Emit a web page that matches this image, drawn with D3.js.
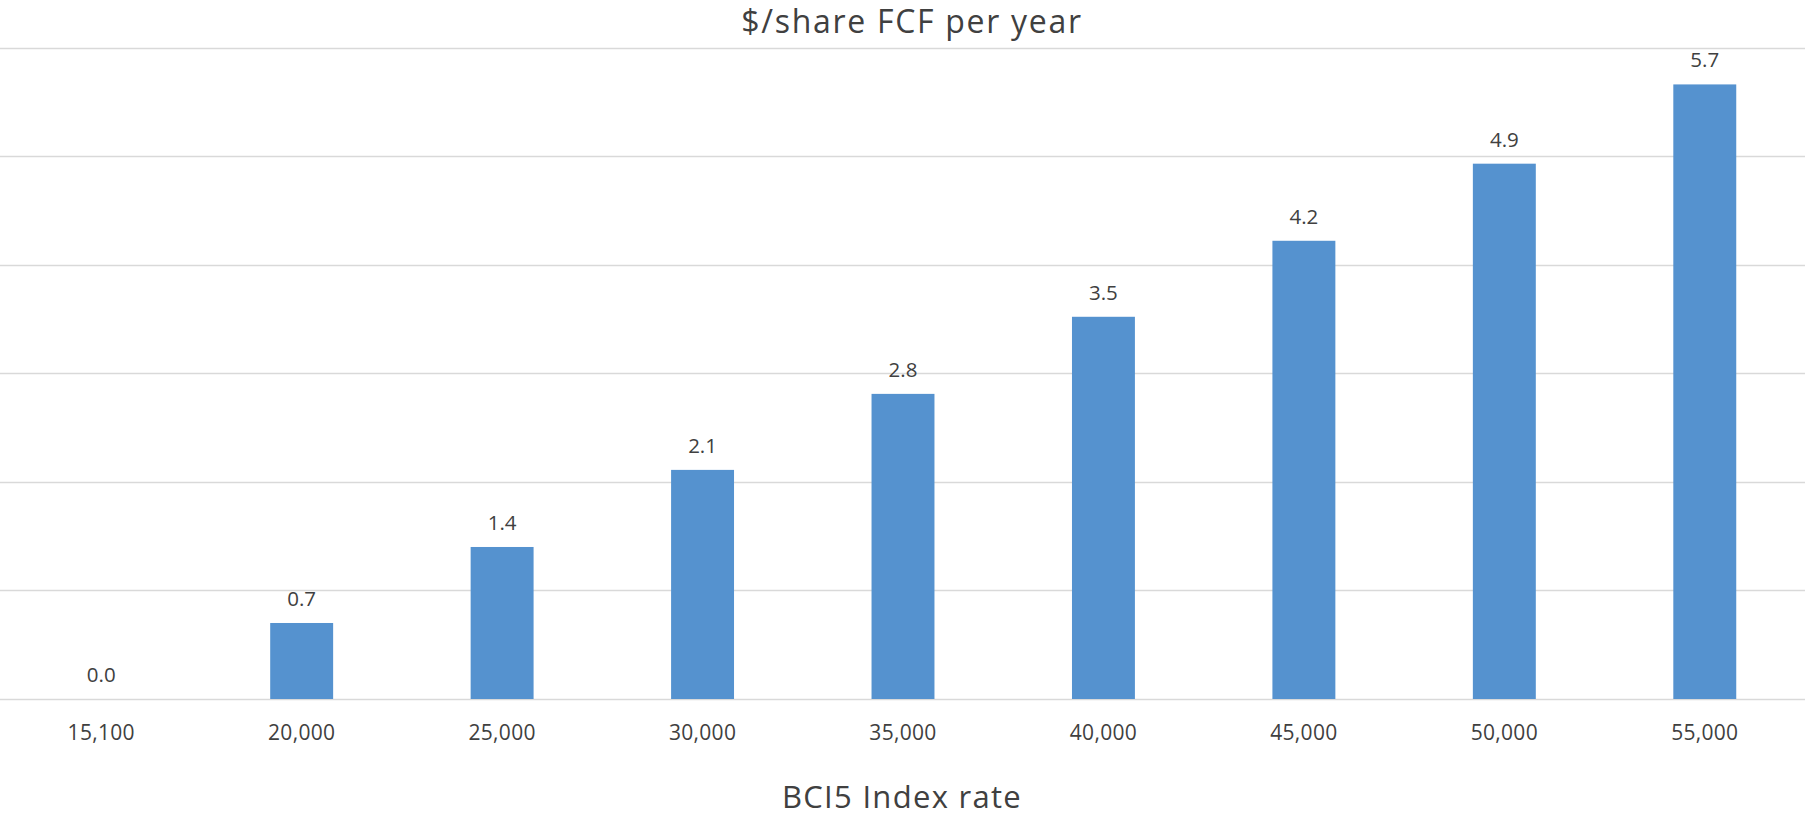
<!DOCTYPE html>
<html>
<head>
<meta charset="utf-8">
<script src="https://cdn.jsdelivr.net/npm/d3@7"></script>
<style>
  html, body { margin: 0; padding: 0; background: #fff; }
  svg { display: block; font-family: "Open Sans", sans-serif; }
</style>
</head>
<body>
<svg id="chart" width="1805" height="816"></svg>
<script>
const categories = ["15,100", "20,000", "25,000", "30,000", "35,000", "40,000", "45,000", "50,000", "55,000"];
const values = [0.0, 0.70, 1.40, 2.11, 2.81, 3.52, 4.22, 4.93, 5.66];
const yTicks = [0, 1, 2, 3, 4, 5, 6];
const chartTitle = "$/share FCF per year";
const xTitle = "BCI5 Index rate";

const W = 1805, H = 816;
const plot = { left: 1, right: 1805, top: 47.5, bottom: 699 };
const svg = d3.select("#chart");

const x = d3.scaleBand().domain(categories).range([plot.left, plot.right]).paddingInner(0.686).paddingOuter(0.343);
const y = d3.scaleLinear().domain([0, 6]).range([plot.bottom, plot.top]);

// gridlines
svg.append("g").selectAll("line").data(yTicks).join("line")
  .attr("x1", 0).attr("x2", W)
  .attr("y1", d => Math.round(y(d)) + 0.5).attr("y2", d => Math.round(y(d)) + 0.5)
  .attr("stroke", "#d9d9d9").attr("stroke-width", 1.5);

// bars
svg.append("g").selectAll("rect").data(values).join("rect")
  .attr("x", (d, i) => x(categories[i]))
  .attr("width", x.bandwidth())
  .attr("y", d => y(d))
  .attr("height", d => y(0) - y(d))
  .attr("fill", "#5592cf");

// data labels
svg.append("g").selectAll("text").data(values).join("text")
  .attr("x", (d, i) => x(categories[i]) + x.bandwidth() / 2)
  .attr("y", d => y(d) - 17)
  .attr("text-anchor", "middle")
  .attr("font-size", 20.5)
  .attr("fill", "#404040")
  .text(d => d.toFixed(1));

// x axis labels
const xAxis = d3.axisBottom(x).tickSize(0).tickPadding(0);
const gx = svg.append("g").attr("transform", `translate(0,${plot.bottom})`).call(xAxis);
gx.select(".domain").remove();
gx.selectAll("text")
  .attr("dy", null)
  .attr("y", 41)
  .attr("font-size", 21)
  .attr("letter-spacing", 0.3)
  .attr("font-family", "'Open Sans', sans-serif")
  .attr("fill", "#404040");

// titles
svg.append("text").attr("x", 912).attr("y", 33)
  .attr("text-anchor", "middle").attr("font-size", 32).attr("letter-spacing", 1.7).attr("fill", "#404040")
  .text(chartTitle);
svg.append("text").attr("x", 902).attr("y", 808)
  .attr("text-anchor", "middle").attr("font-size", 31).attr("letter-spacing", 1.3).attr("fill", "#404040")
  .text(xTitle);
</script>
</body>
</html>
